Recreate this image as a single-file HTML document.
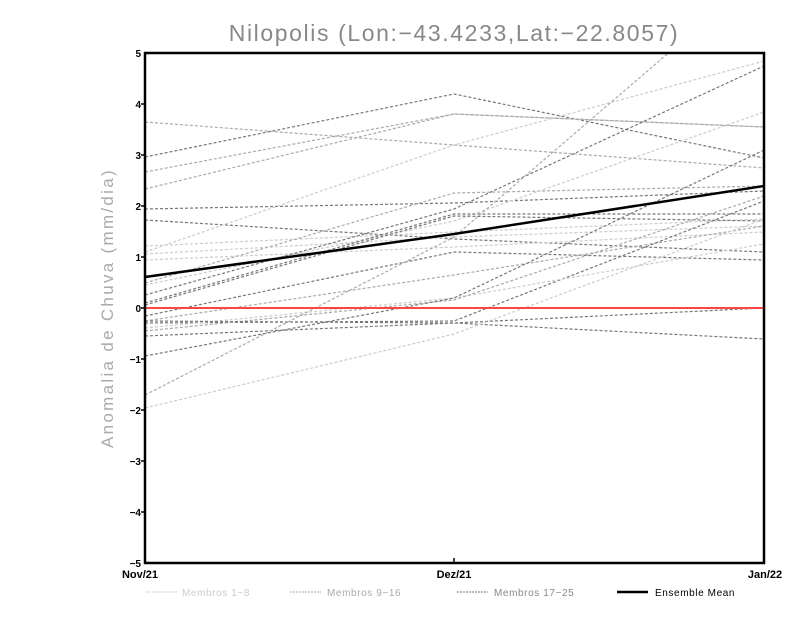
<!DOCTYPE html>
<html><head><style>body{margin:0;background:#fff}svg{display:block}</style></head><body>
<svg width="800" height="618" xmlns="http://www.w3.org/2000/svg" font-family="Liberation Sans, sans-serif">
<defs><clipPath id="c"><rect x="145" y="53" width="619" height="510"/></clipPath></defs>
<text x="454" y="41" text-anchor="middle" font-size="23" fill="#888" letter-spacing="1.6">Nilopolis (Lon:−43.4233,Lat:−22.8057)</text>
<text transform="translate(113,308) rotate(-90)" text-anchor="middle" font-size="17" fill="#aaa" letter-spacing="2.3">Anomalia de Chuva (mm/dia)</text>
<g clip-path="url(#c)" fill="none" stroke-width="1.2" stroke-dasharray="3,2">
<polyline stroke="#aaa" points="145,122 454,145 764,168"/>
<polyline stroke="#777" points="145,157 454,94 764,158"/>
<polyline stroke="#aaa" points="145,172 454,114 764,127"/>
<polyline stroke="#aaa" points="145,189 454,114 764,127"/>
<polyline stroke="#777" points="145,209 454,203 764,191"/>
<polyline stroke="#777" points="145,220 454,239 764,252"/>
<polyline stroke="#ccc" points="145,252 454,145 764,61"/>
<polyline stroke="#ccc" points="145,246 454,232 764,219"/>
<polyline stroke="#ccc" points="145,254 454,237 764,226"/>
<polyline stroke="#ccc" points="145,260 454,247 764,232"/>
<polyline stroke="#aaa" points="145,283 454,193 764,186"/>
<polyline stroke="#ccc" points="145,285 454,221 764,112"/>
<polyline stroke="#777" points="145,295 454,209 764,66"/>
<polyline stroke="#777" points="145,303 454,214 764,214"/>
<polyline stroke="#777" points="145,305 454,216 764,221"/>
<polyline stroke="#777" points="145,316 454,252 764,260"/>
<polyline stroke="#aaa" points="145,321 454,275 764,226"/>
<polyline stroke="#777" points="145,323 454,321 764,201"/>
<polyline stroke="#ccc" points="145,328 454,298 764,244"/>
<polyline stroke="#aaa" points="145,331 454,300 764,196"/>
<polyline stroke="#777" points="145,336 454,323 764,339"/>
<polyline stroke="#777" points="145,321 454,323 764,308"/>
<polyline stroke="#777" points="145,356 454,298 764,150"/>
<polyline stroke="#aaa" points="145,395 454,237 764,-29"/>
<polyline stroke="#ccc" points="145,408 454,334 764,219"/>
</g>
<line x1="145" y1="308" x2="764" y2="308" stroke="#f44" stroke-width="2"/>
<polyline points="145,277 454,234 764,186" fill="none" stroke="#000" stroke-width="2.5"/>
<rect x="145" y="53" width="619" height="510" fill="none" stroke="#000" stroke-width="2.5"/>
<g font-size="10" font-weight="bold" text-anchor="end">
<text x="141" y="57">5</text><text x="141" y="108">4</text><text x="141" y="159">3</text><text x="141" y="210">2</text><text x="141" y="261">1</text><text x="141" y="312">0</text><text x="141" y="363">−1</text><text x="141" y="414">−2</text><text x="141" y="465">−3</text><text x="141" y="516">−4</text><text x="141" y="567">−5</text>
</g>
<g stroke="#000" stroke-width="1.5"><line x1="141" y1="104" x2="145" y2="104"/><line x1="141" y1="155" x2="145" y2="155"/><line x1="141" y1="206" x2="145" y2="206"/><line x1="141" y1="257" x2="145" y2="257"/><line x1="141" y1="308" x2="145" y2="308"/><line x1="141" y1="359" x2="145" y2="359"/><line x1="141" y1="410" x2="145" y2="410"/><line x1="141" y1="461" x2="145" y2="461"/><line x1="141" y1="512" x2="145" y2="512"/><line x1="454" y1="558" x2="454" y2="563"/></g>
<g font-size="11" font-weight="bold" text-anchor="middle">
<text x="140" y="578">Nov/21</text><text x="454" y="578">Dez/21</text><text x="765" y="578">Jan/22</text>
</g>
<g font-size="10" letter-spacing="0.6">
<line x1="146" y1="592" x2="177" y2="592" stroke="#ccc" stroke-dasharray="2,1"/><text x="182" y="596" fill="#ccc">Membros 1−8</text>
<line x1="290" y1="592" x2="321" y2="592" stroke="#aaa" stroke-dasharray="2,1"/><text x="327" y="596" fill="#aaa">Membros 9−16</text>
<line x1="457" y1="592" x2="488" y2="592" stroke="#777" stroke-dasharray="2,1"/><text x="494" y="596" fill="#888">Membros 17−25</text>
<line x1="617" y1="592" x2="648" y2="592" stroke="#000" stroke-width="2.5"/><text x="655" y="596" fill="#000">Ensemble Mean</text>
</g>
</svg>
</body></html>
